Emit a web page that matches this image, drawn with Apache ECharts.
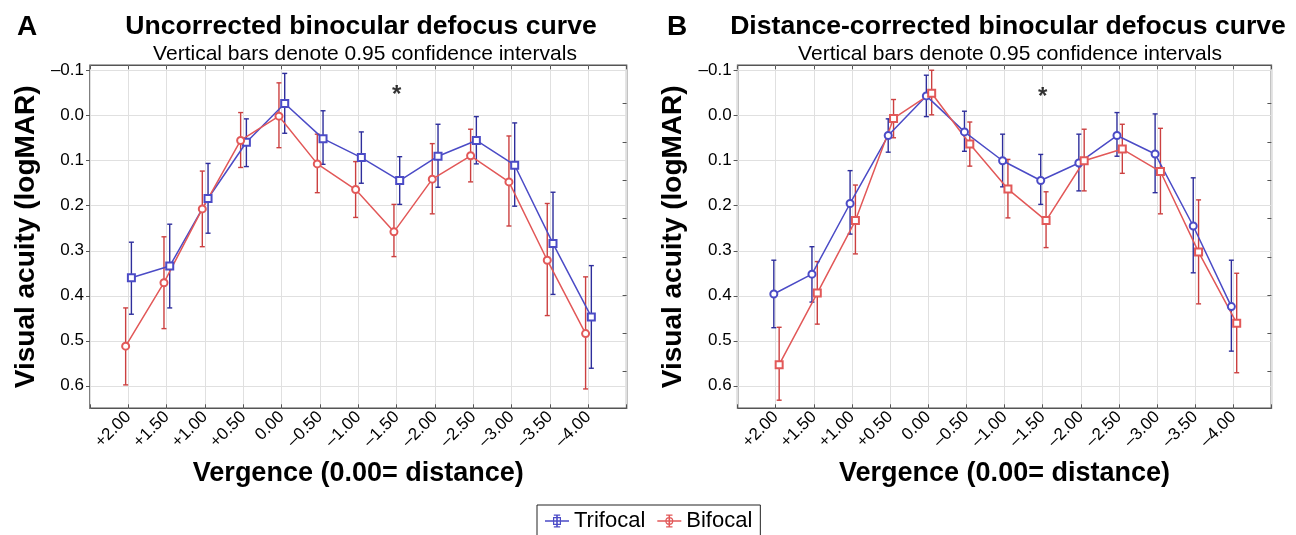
<!DOCTYPE html>
<html>
<head>
<meta charset="utf-8">
<script src="https://cdn.jsdelivr.net/npm/echarts@6/dist/echarts.min.js"></script>
<style>
html,body{margin:0;padding:0;background:#fff;}
#chart{width:1296px;height:535px;}
</style>
</head>
<body>
<div id="chart"></div>
<script>
// ---------- data ----------
const categories = ['+2.00','+1.50','+1.00','+0.50','0.00','\u20130.50','\u20131.00','\u20131.50','\u20132.00','\u20132.50','\u20133.00','\u20133.50','\u20134.00'];
const yTicks = [-0.1, 0, 0.1, 0.2, 0.3, 0.4, 0.5, 0.6];

// Panel A: uncorrected
const aTriMean = [0.360,0.334,0.184,0.059,-0.027,0.051,0.093,0.144,0.090,0.055,0.110,0.284,0.447];
const aTriLow  = [0.281,0.241,0.106,0.007,-0.094,-0.011,0.036,0.091,0.019,0.002,0.016,0.170,0.333];
const aTriHigh = [0.441,0.427,0.261,0.113,0.039,0.108,0.150,0.197,0.159,0.107,0.201,0.397,0.561];
const aBiMean  = [0.512,0.371,0.207,0.055,0.001,0.107,0.164,0.258,0.141,0.089,0.147,0.321,0.484];
const aBiLow   = [0.427,0.269,0.123,-0.007,-0.073,0.041,0.102,0.197,0.062,0.030,0.045,0.195,0.358];
const aBiHigh  = [0.598,0.473,0.291,0.115,0.071,0.171,0.226,0.313,0.218,0.147,0.245,0.444,0.607];

// Panel B: distance-corrected
const bTriMean = [0.396,0.352,0.195,0.044,-0.044,0.036,0.100,0.144,0.105,0.044,0.085,0.245,0.424];
const bTriLow  = [0.321,0.291,0.122,0.007,-0.090,-0.010,0.041,0.086,0.041,-0.007,-0.004,0.138,0.321];
const bTriHigh = [0.471,0.414,0.263,0.081,0.002,0.079,0.158,0.197,0.167,0.090,0.171,0.349,0.523];
const bBiMean  = [0.553,0.394,0.233,0.006,-0.050,0.063,0.163,0.233,0.100,0.074,0.124,0.303,0.461];
const bBiLow   = [0.470,0.324,0.154,-0.036,-0.101,0.014,0.097,0.169,0.030,0.019,0.028,0.187,0.350];
const bBiHigh  = [0.632,0.463,0.307,0.049,-0.002,0.112,0.227,0.293,0.167,0.128,0.218,0.418,0.571];

// significance marker (asterisk) at category index, y value
const sigIndex = [7];
const sigA = [-0.045];
const sigB = [-0.04];

// ---------- style ----------
const FONT = "'Liberation Sans', Arial, Helvetica, sans-serif";
const BLUE_LINE = '#4b4bc6', BLUE_BAR = '#2e2e9c';
const RED_LINE = '#e25858', RED_BAR = '#cc4040';
const Y_MIN = -0.112, Y_MAX = 0.65;

const grids = [
  {left: 90, right: 669.4, top: 65.3, bottom: 126.7},
  {left: 737.6, right: 24.6, top: 65.3, bottom: 126.7}
];

function xAxes(gi) {
  return [
    { type: 'value', gridIndex: gi, position: 'bottom', min: -1, max: 13, interval: 1,
      axisLine: {show: false, onZero: false},
      axisTick: {show: true, inside: true, length: 4, lineStyle: {color: '#555'}},
      splitLine: {show: true, lineStyle: {color: '#e0e0e0', width: 1}},
      axisLabel: {rotate: 45, margin: 6, fontSize: 17, color: '#000', fontFamily: FONT,
        formatter: v => (v >= 0 && v < categories.length && Number.isInteger(v)) ? categories[v] : ''},
      name: 'Vergence (0.00= distance)', nameLocation: 'middle', nameGap: 52,
      nameTextStyle: {fontSize: 27, fontWeight: 'bold', color: '#000', fontFamily: FONT}
    },
    { type: 'value', gridIndex: gi, position: 'top', min: -1, max: 13, interval: 1,
      axisLine: {show: false, onZero: false},
      axisTick: {show: true, inside: true, length: 4, lineStyle: {color: '#555'}},
      axisLabel: {show: false}, splitLine: {show: false}
    }
  ];
}
function yAxes(gi) {
  return [
    { type: 'value', gridIndex: gi, position: 'left', inverse: true, min: Y_MIN, max: Y_MAX,
      axisLine: {show: false, onZero: false},
      axisTick: {show: true, inside: false, length: 4, customValues: yTicks, lineStyle: {color: '#555'}},
      splitLine: {show: true, lineStyle: {color: '#e0e0e0', width: 1}},
      axisLabel: {customValues: yTicks, fontSize: 17, color: '#000', fontFamily: FONT, margin: 6,
        formatter: v => (v < 0 ? '\u2013' : '') + Math.abs(v).toFixed(1)},
      name: 'Visual acuity (logMAR)', nameLocation: 'middle', nameGap: 50,
      nameTextStyle: {fontSize: 28, fontWeight: 'bold', color: '#000', fontFamily: FONT}
    },
    { type: 'value', gridIndex: gi, position: 'right', inverse: true, min: 0, max: 343, interval: 38.3,
      axisLine: {show: false, onZero: false},
      axisTick: {show: true, inside: true, length: 4, lineStyle: {color: '#555'}},
      axisLabel: {show: false}, splitLine: {show: false}
    }
  ];
}

function errSeries(name, gi, off, lo, hi, color) {
  return {
    type: 'custom', name: name, xAxisIndex: gi * 2, yAxisIndex: gi * 2, z: 3,
    data: lo.map((l, i) => [i + off, l, hi[i]]),
    encode: {x: 0, y: [1, 2]},
    renderItem: (params, api) => {
      const x = api.value(0);
      const p1 = api.coord([x, api.value(1)]);
      const p2 = api.coord([x, api.value(2)]);
      const c = 2.5;
      const st = {stroke: color, lineWidth: 1.4, fill: null};
      return {type: 'group', children: [
        {type: 'line', shape: {x1: p1[0], y1: p1[1], x2: p2[0], y2: p2[1]}, style: st},
        {type: 'line', shape: {x1: p1[0] - c, y1: p1[1], x2: p1[0] + c, y2: p1[1]}, style: st},
        {type: 'line', shape: {x1: p2[0] - c, y1: p2[1], x2: p2[0] + c, y2: p2[1]}, style: st}
      ]};
    }
  };
}
function lineSeries(name, gi, off, mean, color, symbol) {
  return {
    type: 'line', name: name, xAxisIndex: gi * 2, yAxisIndex: gi * 2, z: 4,
    data: mean.map((m, i) => [i + off, m]),
    symbol: symbol, symbolSize: 7, showSymbol: true,
    lineStyle: {color: color, width: 1.5},
    itemStyle: {color: color, borderWidth: 1.3},
    emphasis: {disabled: true}
  };
}
function sigSeries(gi, ys) {
  return {
    type: 'scatter', xAxisIndex: gi * 2, yAxisIndex: gi * 2, symbolSize: 0, z: 5,
    data: sigIndex.map((s, k) => [s, ys[k]]),
    label: {show: true, position: 'inside', formatter: '*', fontSize: 24, fontWeight: 'bold', color: '#000', fontFamily: FONT},
    emphasis: {disabled: true}
  };
}

const iconTri = 'path://M0 9H30V11H0Z M14 2H16V18H14Z M11 2H19V3.5H11Z M11 16.5H19V18H11Z M10 5H20V6.5H10Z M10 13.5H20V15H10Z M10 5H11.5V15H10Z M18.5 5H20V15H18.5Z';
const iconBi = 'path://M0 9H30V11H0Z M14 2H16V18H14Z M11 2H19V3.5H11Z M11 16.5H19V18H11Z M10 10A5 5 0 1 1 20 10A5 5 0 1 1 10 10Z M11.5 10A3.5 3.5 0 1 0 18.5 10A3.5 3.5 0 1 0 11.5 10Z';

const option = {
  animation: false,
  backgroundColor: '#fff',
  textStyle: {fontFamily: FONT},
  title: [
    {text: 'A', left: 12, top: 8, textStyle: {fontSize: 28, fontWeight: 'bold', color: '#000', fontFamily: FONT}},
    {text: 'Uncorrected binocular defocus curve', left: 356, top: 8, textAlign: 'center',
     textStyle: {fontSize: 26.6, fontWeight: 'bold', color: '#000', fontFamily: FONT}},
    {text: 'Vertical bars denote 0.95 confidence intervals', left: 360, top: 39, textAlign: 'center',
     textStyle: {fontSize: 21, fontWeight: 'normal', color: '#000', fontFamily: FONT}},
    {text: 'B', left: 662, top: 8, textStyle: {fontSize: 28, fontWeight: 'bold', color: '#000', fontFamily: FONT}},
    {text: 'Distance-corrected binocular defocus curve', left: 1003, top: 8, textAlign: 'center',
     textStyle: {fontSize: 26.6, fontWeight: 'bold', color: '#000', fontFamily: FONT}},
    {text: 'Vertical bars denote 0.95 confidence intervals', left: 1005, top: 39, textAlign: 'center',
     textStyle: {fontSize: 21, fontWeight: 'normal', color: '#000', fontFamily: FONT}}
  ],
  legend: {
    left: 537, top: 505, orient: 'horizontal',
    itemWidth: 24, itemHeight: 16, itemGap: 12,
    padding: [5, 8, 5, 8],
    borderColor: '#222', borderWidth: 1,
    textStyle: {fontSize: 22, color: '#000', fontFamily: FONT},
    data: [
      {name: 'Trifocal', icon: iconTri, itemStyle: {color: BLUE_LINE}},
      {name: 'Bifocal', icon: iconBi, itemStyle: {color: RED_LINE}}
    ]
  },
  grid: grids.map(g => Object.assign({show: true, borderColor: '#555', borderWidth: 1.5, backgroundColor: '#fff'}, g)),
  xAxis: [...xAxes(0), ...xAxes(1)],
  yAxis: [...yAxes(0), ...yAxes(1)],
  series: [
    // Panel A
    lineSeries('Trifocal', 0, 0.08, aTriMean, BLUE_LINE, 'emptyRect'),
    lineSeries('Bifocal', 0, -0.07, aBiMean, RED_LINE, 'emptyCircle'),
    errSeries('Trifocal', 0, 0.08, aTriLow, aTriHigh, BLUE_BAR),
    errSeries('Bifocal', 0, -0.07, aBiLow, aBiHigh, RED_BAR),
    sigSeries(0, sigA),
    // Panel B
    lineSeries('Trifocal', 1, -0.05, bTriMean, BLUE_LINE, 'emptyCircle'),
    lineSeries('Bifocal', 1, 0.09, bBiMean, RED_LINE, 'emptyRect'),
    errSeries('Trifocal', 1, -0.05, bTriLow, bTriHigh, BLUE_BAR),
    errSeries('Bifocal', 1, 0.09, bBiLow, bBiHigh, RED_BAR),
    sigSeries(1, sigB)
  ]
};

const chart = echarts.init(document.getElementById('chart'), null, {renderer: 'canvas'});
chart.setOption(option);
</script>
</body>
</html>
